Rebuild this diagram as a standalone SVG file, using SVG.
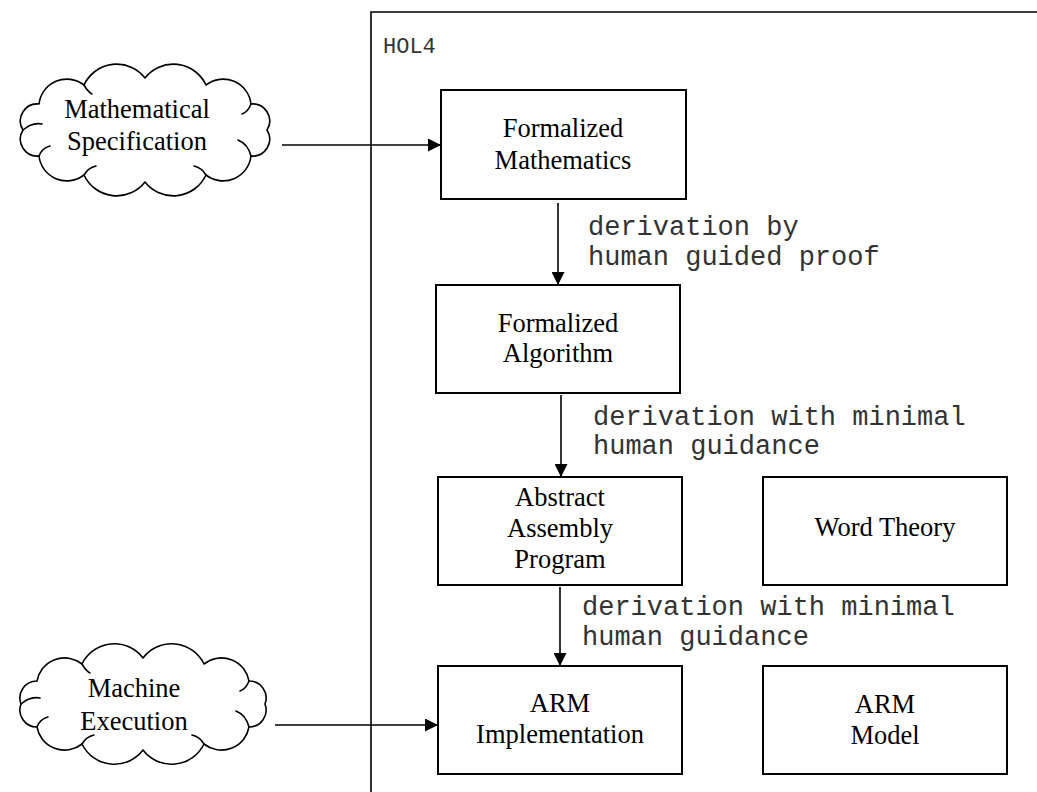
<svg xmlns="http://www.w3.org/2000/svg" width="1037" height="792" viewBox="0 0 1037 792">
<style>
.box{fill:#fff;stroke:#000;stroke-width:2}
.cloud{fill:#fff;stroke:#000;stroke-width:1.6;stroke-linejoin:round}
.curl{fill:none;stroke:#000;stroke-width:1.6;stroke-linecap:round}
.lbl{font-family:"Liberation Serif","Times New Roman",serif;font-size:26.5px;fill:#000;text-anchor:middle}
.mono{font-family:"Liberation Mono","Courier New",monospace;font-size:27px;fill:#333}
.edge{fill:none;stroke:#000;stroke-width:1.6}
</style>
<defs>
<marker id="ah" markerUnits="userSpaceOnUse" markerWidth="13" markerHeight="13" refX="13" refY="6.5" orient="auto">
<path d="M0,0 L13,6.5 L0,13 z" fill="#000"/>
</marker>
</defs>
<rect width="1037" height="792" fill="#fff"/>
<g id="hol4-frame">
<path d="M371,792 V12 H1037" fill="none" stroke="#000" stroke-width="1.6"/>
<text x="383" y="53" class="mono" style="font-size:22px">HOL4</text>
</g>
<g id="cloud-spec">
<path class="cloud" d="M23,130 A17,17 0 0 1 39,104 A28,28 0 0 1 84,85 A36,36 0 0 1 145,78 A36,36 0 0 1 206,85 A28,28 0 0 1 251,104 A17,17 0 0 1 267,130 A17,17 0 0 1 251,156 A28,28 0 0 1 206,175 A36,36 0 0 1 145,182 A36,36 0 0 1 84,175 A28,28 0 0 1 39,156 A17,17 0 0 1 23,130 Z"/>
<path class="curl" d="M23,130 Q32,122 42,124"/>
<path class="curl" d="M39,156 Q42,148 50,146"/>
<path class="curl" d="M251,156 Q248,144 238,140"/>
<path class="curl" d="M251,104 Q248,112 242,114"/>
<path class="curl" d="M84,175 Q88,168 96,166"/>
<path class="curl" d="M206,175 Q202,168 194,166"/>
<path class="curl" d="M84,85 Q88,92 92,94"/>
<text class="lbl" x="137" y="118">Mathematical</text>
<text class="lbl" x="137" y="150">Specification</text>
</g>
<g id="cloud-exec">
<path class="cloud" d="M21,704 A17,17 0 0 1 37,681 A28,28 0 0 1 82,664 A36,36 0 0 1 143,658 A36,36 0 0 1 204,664 A28,28 0 0 1 249,681 A17,17 0 0 1 265,704 A17,17 0 0 1 249,727 A28,28 0 0 1 204,744 A36,36 0 0 1 143,750 A36,36 0 0 1 82,744 A28,28 0 0 1 37,727 A17,17 0 0 1 21,704 Z"/>
<path class="curl" d="M21,704 Q30,696 40,698"/>
<path class="curl" d="M37,727 Q40,719 48,717"/>
<path class="curl" d="M249,727 Q246,715 236,711"/>
<path class="curl" d="M249,681 Q246,689 240,691"/>
<path class="curl" d="M82,744 Q86,737 94,735"/>
<path class="curl" d="M204,744 Q200,737 192,735"/>
<path class="curl" d="M82,664 Q86,671 90,673"/>
<text class="lbl" x="134" y="697">Machine</text>
<text class="lbl" x="134" y="730">Execution</text>
</g>
<g id="formalized-math">
<rect class="box" x="441" y="90" width="245" height="109"/>
<text class="lbl" x="563" y="137">Formalized</text>
<text class="lbl" x="563" y="169">Mathematics</text>
</g>
<g id="formalized-alg">
<rect class="box" x="436" y="285" width="244" height="108"/>
<text class="lbl" x="558" y="332">Formalized</text>
<text class="lbl" x="558" y="362">Algorithm</text>
</g>
<g id="abstract-asm">
<rect class="box" x="438" y="477" width="244" height="108"/>
<text class="lbl" x="560" y="506">Abstract</text>
<text class="lbl" x="560" y="537">Assembly</text>
<text class="lbl" x="560" y="568">Program</text>
</g>
<g id="word-theory">
<rect class="box" x="763" y="477" width="244" height="108"/>
<text class="lbl" x="885" y="536">Word Theory</text>
</g>
<g id="arm-impl">
<rect class="box" x="438" y="666" width="244" height="108"/>
<text class="lbl" x="560" y="712">ARM</text>
<text class="lbl" x="560" y="743">Implementation</text>
</g>
<g id="arm-model">
<rect class="box" x="763" y="666" width="244" height="108"/>
<text class="lbl" x="885" y="713">ARM</text>
<text class="lbl" x="885" y="744">Model</text>
</g>
<g id="connectors">
<path class="edge" d="M282,145 H441" marker-end="url(#ah)"/>
<path class="edge" d="M558,203 V285" marker-end="url(#ah)"/>
<path class="edge" d="M561,395 V477" marker-end="url(#ah)"/>
<path class="edge" d="M560,587 V666" marker-end="url(#ah)"/>
<path class="edge" d="M275,725 H438" marker-end="url(#ah)"/>
<text class="mono" x="588" y="235">derivation by</text>
<text class="mono" x="588" y="265">human guided proof</text>
<text class="mono" x="593" y="425">derivation with minimal</text>
<text class="mono" x="593" y="454">human guidance</text>
<text class="mono" x="582" y="615">derivation with minimal</text>
<text class="mono" x="582" y="645">human guidance</text>
</g>
</svg>
